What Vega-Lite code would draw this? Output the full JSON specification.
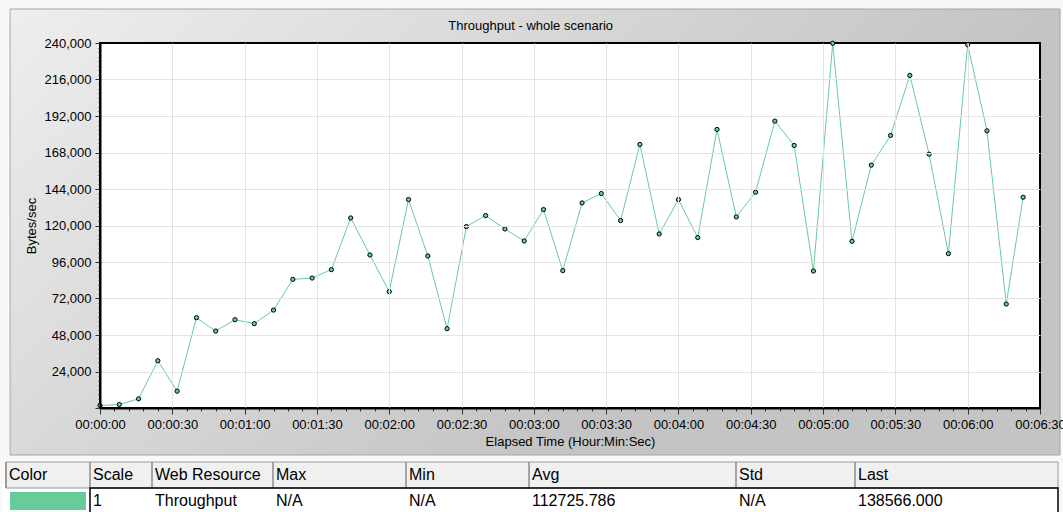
{
  "$schema": "https://vega.github.io/schema/vega-lite/v6.json",
  "width": 940,
  "height": 365,
  "autosize": {"type": "none"},
  "padding": {"left": 100, "top": 43, "right": 23, "bottom": 104},
  "background": "#f8f8f8",
  "config": {"font": "Liberation Sans", "view": {"stroke": null}},
  "resolve": {"scale": {"x": "independent", "y": "independent"}},
  "layer": [
    {
      "data": {"values": [
        {"t": 0, "bytes": 1600}, {"t": 8, "bytes": 2300}, {"t": 16, "bytes": 6050}, {"t": 24, "bytes": 31070},
        {"t": 32, "bytes": 11060}, {"t": 40, "bytes": 59380}, {"t": 48, "bytes": 50570}, {"t": 56, "bytes": 58070},
        {"t": 64, "bytes": 55440}, {"t": 72, "bytes": 64400}, {"t": 80, "bytes": 84600}, {"t": 88, "bytes": 85460},
        {"t": 96, "bytes": 90990}, {"t": 104, "bytes": 124970}, {"t": 112, "bytes": 100600}, {"t": 120, "bytes": 76500},
        {"t": 128, "bytes": 137080}, {"t": 136, "bytes": 99950}, {"t": 144, "bytes": 52140}, {"t": 152, "bytes": 119300},
        {"t": 160, "bytes": 126540}, {"t": 168, "bytes": 117720}, {"t": 176, "bytes": 109820}, {"t": 184, "bytes": 130490},
        {"t": 192, "bytes": 90330}, {"t": 200, "bytes": 134840}, {"t": 208, "bytes": 141030}, {"t": 216, "bytes": 123250},
        {"t": 224, "bytes": 173290}, {"t": 232, "bytes": 114430}, {"t": 240, "bytes": 137080}, {"t": 248, "bytes": 112060},
        {"t": 256, "bytes": 183160}, {"t": 264, "bytes": 125630}, {"t": 272, "bytes": 141890}, {"t": 280, "bytes": 188630},
        {"t": 288, "bytes": 172630}, {"t": 296, "bytes": 90070}, {"t": 304, "bytes": 239800}, {"t": 312, "bytes": 109620},
        {"t": 320, "bytes": 159660}, {"t": 328, "bytes": 179210}, {"t": 336, "bytes": 218720}, {"t": 344, "bytes": 166900},
        {"t": 352, "bytes": 101520}, {"t": 360, "bytes": 238900}, {"t": 368, "bytes": 182250}, {"t": 376, "bytes": 68340},
        {"t": 383, "bytes": 138566}
      ]},
      "layer": [
        {
          "mark": {"type": "rect", "stroke": "#a4a4a4", "strokeWidth": 1,
            "fill": {"gradient": "linear", "x1": 0, "y1": 0, "x2": 1, "y2": 0.5,
              "stops": [{"offset": 0, "color": "#eeeeee"}, {"offset": 0.8, "color": "#c4c4c4"}, {"offset": 1, "color": "#c4c4c4"}]}},
          "transform": [{"filter": "datum.t === 0"}],
          "encoding": {
            "x": {
              "datum": -37.3, "type": "quantitative",
              "scale": {"domain": [0, 390], "nice": false, "zero": false},
              "axis": {
                "title": "Elapsed Time (Hour:Min:Sec)",
                "values": [0,6,12,18,24,30,36,42,48,54,60,66,72,78,84,90,96,102,108,114,120,126,132,138,144,150,156,162,168,174,180,186,192,198,204,210,216,222,228,234,240,246,252,258,264,270,276,282,288,294,300,306,312,318,324,330,336,342,348,354,360,366,372,378,384,390],
                "tickCount": 500,
                "labelExpr": "datum.value % 30 === 0 ? utcFormat(datum.value * 1000, '%H:%M:%S') : ''",
                "labelFlush": false, "labelOverlap": false, "labelBound": false,
                "labelFontSize": 13, "labelColor": "#000000", "labelPadding": 4,
                "tickSize": {"condition": {"test": "datum.value % 30 === 0", "value": 6}, "value": 3},
                "tickColor": "#333333", "tickWidth": 1,
                "grid": true, "gridColor": "#e2e2e2", "gridWidth": 1,
                "gridOpacity": {"condition": {"test": "datum.value % 30 === 0 && datum.value > 0 && datum.value < 390", "value": 1}, "value": 0},
                "domain": true, "domainColor": "#000000", "domainWidth": 2,
                "titleFontSize": 13, "titleFontWeight": "normal", "titleColor": "#000000", "titlePadding": 4,
                "zindex": 1
              }
            },
            "x2": {"datum": 398.3},
            "y": {
              "datum": 262356, "type": "quantitative",
              "scale": {"domain": [0, 240000], "nice": false, "zero": false},
              "axis": {
                "title": "Bytes/sec",
                "values": [0,3000,6000,9000,12000,15000,18000,21000,24000,27000,30000,33000,36000,39000,42000,45000,48000,51000,54000,57000,60000,63000,66000,69000,72000,75000,78000,81000,84000,87000,90000,93000,96000,99000,102000,105000,108000,111000,114000,117000,120000,123000,126000,129000,132000,135000,138000,141000,144000,147000,150000,153000,156000,159000,162000,165000,168000,171000,174000,177000,180000,183000,186000,189000,192000,195000,198000,201000,204000,207000,210000,213000,216000,219000,222000,225000,228000,231000,234000,237000,240000],
                "tickCount": 500,
                "labelExpr": "datum.value % 24000 === 0 && datum.value > 0 ? format(datum.value, ',') : ''",
                "labelFlush": false, "labelOverlap": false, "labelBound": false,
                "labelFontSize": 13, "labelColor": "#000000", "labelPadding": 4,
                "tickSize": {"condition": {"test": "datum.value % 24000 === 0", "value": 5}, "value": 2},
                "tickColor": "#333333", "tickWidth": 1,
                "grid": true, "gridColor": "#e2e2e2", "gridWidth": 1,
                "gridOpacity": {"condition": {"test": "datum.value % 24000 === 0 && datum.value > 0 && datum.value < 240000", "value": 1}, "value": 0},
                "domain": true, "domainColor": "#000000", "domainWidth": 2,
                "titleFontSize": 13, "titleFontWeight": "normal", "titleColor": "#000000", "titlePadding": 6,
                "zindex": 1
              }
            },
            "y2": {"datum": -30904}
          }
        },
        {
          "mark": {"type": "text", "text": "Throughput - whole scenario", "fontSize": 13, "color": "#000000", "align": "center", "baseline": "middle"},
          "transform": [{"filter": "datum.t === 0"}],
          "encoding": {
            "x": {"datum": 178.7, "type": "quantitative", "scale": {"domain": [0, 390], "nice": false, "zero": false}},
            "y": {"datum": 251375, "type": "quantitative", "scale": {"domain": [0, 240000], "nice": false, "zero": false}}
          }
        },
        {
          "mark": {"type": "rect", "fill": "#ffffff", "stroke": "#000000", "strokeWidth": 2},
          "transform": [{"filter": "datum.t === 0"}],
          "encoding": {
            "x": {"datum": 0, "type": "quantitative", "scale": {"domain": [0, 390], "nice": false, "zero": false}},
            "x2": {"datum": 390},
            "y": {"datum": 0, "type": "quantitative", "scale": {"domain": [0, 240000], "nice": false, "zero": false}},
            "y2": {"datum": 240000}
          }
        },
        {
          "mark": {"type": "line", "color": "#66cc99", "strokeWidth": 1},
          "encoding": {
            "x": {"field": "t", "type": "quantitative", "scale": {"domain": [0, 390], "nice": false, "zero": false}},
            "y": {"field": "bytes", "type": "quantitative", "scale": {"domain": [0, 240000], "nice": false, "zero": false}}
          }
        },
        {
          "mark": {"type": "point", "filled": true, "size": 18, "fill": "#66cc99", "stroke": "#000000", "strokeWidth": 1, "opacity": 1},
          "encoding": {
            "x": {"field": "t", "type": "quantitative", "scale": {"domain": [0, 390], "nice": false, "zero": false}},
            "y": {"field": "bytes", "type": "quantitative", "scale": {"domain": [0, 240000], "nice": false, "zero": false}}
          }
        }
      ]
    },
    {
      "data": {"values": [
        {"row": 0, "col": 0, "label": "Color"}, {"row": 0, "col": 1, "label": "Scale"},
        {"row": 0, "col": 2, "label": "Web Resource"}, {"row": 0, "col": 3, "label": "Max"},
        {"row": 0, "col": 4, "label": "Min"}, {"row": 0, "col": 5, "label": "Avg"},
        {"row": 0, "col": 6, "label": "Std"}, {"row": 0, "col": 7, "label": "Last"},
        {"row": 1, "col": 1, "label": "1"}, {"row": 1, "col": 2, "label": "Throughput"},
        {"row": 1, "col": 3, "label": "N/A"}, {"row": 1, "col": 4, "label": "N/A"},
        {"row": 1, "col": 5, "label": "112725.786"}, {"row": 1, "col": 6, "label": "N/A"},
        {"row": 1, "col": 7, "label": "138566.000"}
      ]},
      "layer": [
        {
          "data": {"values": [{}]},
          "mark": {"type": "rect", "fill": "#ffffff"},
          "encoding": {
            "x": {"datum": 0, "type": "quantitative", "axis": null, "scale": {"domain": [0,1,2,3,4,5,6,7,8], "range": [-94,-10,52,173,306,429,636,755,958], "nice": false, "zero": false}},
            "x2": {"datum": 8},
            "y": {"datum": 0.5, "type": "quantitative", "axis": null, "scale": {"domain": [-0.5, 1.5], "range": [419, 471], "nice": false, "zero": false}},
            "y2": {"datum": 1.5}
          }
        },
        {
          "data": {"values": [{}]},
          "mark": {"type": "rect", "fill": "#66cc99", "stroke": "#ffffff", "strokeWidth": 8},
          "encoding": {
            "x": {"datum": 0, "type": "quantitative", "axis": null, "scale": {"domain": [0,1,2,3,4,5,6,7,8], "range": [-94,-10,52,173,306,429,636,755,958], "nice": false, "zero": false}},
            "x2": {"datum": 1},
            "y": {"datum": 0.5, "type": "quantitative", "axis": null, "scale": {"domain": [-0.5, 1.5], "range": [419, 471], "nice": false, "zero": false}},
            "y2": {"datum": 1.5}
          }
        },
        {
          "data": {"values": [{}]},
          "mark": {"type": "rect", "fill": "#f0f0f0", "stroke": "#9a9a9a", "strokeWidth": 1},
          "encoding": {
            "x": {"datum": 0, "type": "quantitative", "axis": null, "scale": {"domain": [0,1,2,3,4,5,6,7,8], "range": [-94,-10,52,173,306,429,636,755,958], "nice": false, "zero": false}},
            "x2": {"datum": 8},
            "y": {"datum": -0.5, "type": "quantitative", "axis": null, "scale": {"domain": [-0.5, 1.5], "range": [419, 471], "nice": false, "zero": false}},
            "y2": {"datum": 0.5}
          }
        },
        {
          "transform": [{"filter": "datum.row === 0"}],
          "mark": {"type": "rule", "color": "#8c8c8c", "strokeWidth": 1.5},
          "encoding": {
            "x": {"field": "col", "type": "quantitative", "axis": null, "scale": {"domain": [0,1,2,3,4,5,6,7,8], "range": [-94,-10,52,173,306,429,636,755,958], "nice": false, "zero": false}},
            "y": {"datum": -0.5, "type": "quantitative", "axis": null, "scale": {"domain": [-0.5, 1.5], "range": [419, 471], "nice": false, "zero": false}},
            "y2": {"datum": 0.5}
          }
        },
        {
          "data": {"values": [{}]},
          "mark": {"type": "rect", "fill": null, "fillOpacity": 0, "stroke": "#000000", "strokeWidth": 1.5},
          "encoding": {
            "x": {"datum": 1, "type": "quantitative", "axis": null, "scale": {"domain": [0,1,2,3,4,5,6,7,8], "range": [-94,-10,52,173,306,429,636,755,958], "nice": false, "zero": false}},
            "x2": {"datum": 8},
            "y": {"datum": 0.5, "type": "quantitative", "axis": null, "scale": {"domain": [-0.5, 1.5], "range": [419, 471], "nice": false, "zero": false}},
            "y2": {"datum": 1.6}
          }
        },
        {
          "mark": {"type": "text", "align": "left", "baseline": "middle", "dx": 3, "fontSize": 16, "color": "#000000"},
          "encoding": {
            "x": {"field": "col", "type": "quantitative", "axis": null, "scale": {"domain": [0,1,2,3,4,5,6,7,8], "range": [-94,-10,52,173,306,429,636,755,958], "nice": false, "zero": false}},
            "y": {"field": "row", "type": "quantitative", "axis": null, "scale": {"domain": [-0.5, 1.5], "range": [419, 471], "nice": false, "zero": false}},
            "text": {"field": "label", "type": "nominal"}
          }
        }
      ]
    }
  ]
}
